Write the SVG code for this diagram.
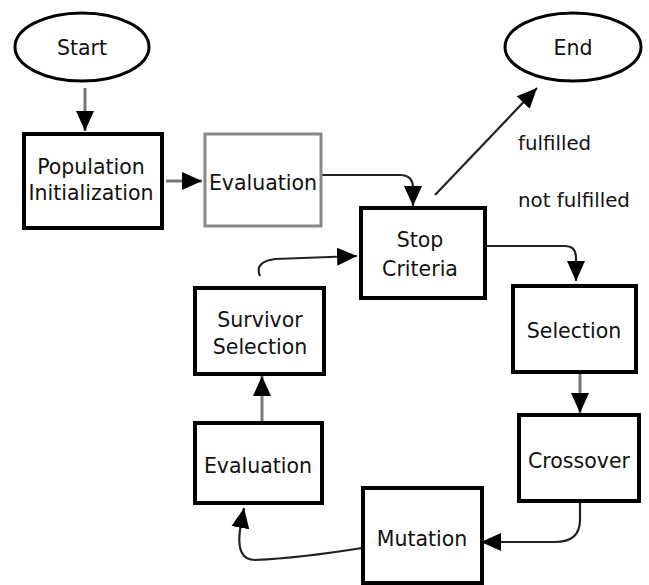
<svg xmlns="http://www.w3.org/2000/svg" width="649" height="585" viewBox="0 0 649 585">
<defs>
<style>
.t{font-family:"DejaVu Sans","Liberation Sans",sans-serif;font-size:20.5px;fill:#111;text-anchor:middle}
.l{font-family:"DejaVu Sans","Liberation Sans",sans-serif;font-size:19.8px;fill:#111}
.box{fill:#fff;stroke:#000;stroke-width:4}
.gbox{fill:#fff;stroke:#888;stroke-width:3}
.ell{fill:#fff;stroke:#000;stroke-width:3}
.c{fill:none;stroke:#222;stroke-width:2.2}
.cg{fill:none;stroke:#777;stroke-width:3}
</style>
<marker id="a" viewBox="0 0 20 20" refX="20" refY="10" markerWidth="20" markerHeight="20" markerUnits="userSpaceOnUse" orient="auto">
<path d="M0,1 L20,10 L0,19 z" fill="#000"/>
</marker>
</defs>
<g id="connectors">
<path class="cg" d="M85,88 V131" marker-end="url(#a)"/>
<path class="cg" d="M166,181 H202" marker-end="url(#a)"/>
<path class="c" d="M322,175 H400 Q413,175 413,188 V206" marker-end="url(#a)"/>
<path class="c" d="M435,195 L537,88" marker-end="url(#a)"/>
<path class="c" d="M486,246 H565 Q576,246 576,258 V281" marker-end="url(#a)"/>
<path class="cg" d="M580,373 V413" marker-end="url(#a)"/>
<path class="c" d="M580,503 V520 Q580,542 555,542 H481" marker-end="url(#a)"/>
<path class="c" d="M362,548 Q300,558 255,560 Q236,560 240,530 L244,508" marker-end="url(#a)"/>
<path class="cg" d="M262,421 V376" marker-end="url(#a)"/>
<path class="c" d="M260,276 Q254,262 275,259 L357,256" marker-end="url(#a)"/>
</g>
<g id="start"><ellipse class="ell" cx="82" cy="47" rx="67" ry="34"/><text class="t" x="82" y="55">Start</text></g>
<g id="end"><ellipse class="ell" cx="573" cy="47" rx="68" ry="34"/><text class="t" x="573" y="55">End</text></g>
<g id="popinit"><rect class="box" x="24" y="134" width="138" height="94"/><text class="t" x="91" y="174">Population</text><text class="t" x="91" y="200">Initialization</text></g>
<g id="eval1"><rect class="gbox" x="205" y="134" width="116" height="92"/><text class="t" x="263" y="190">Evaluation</text></g>
<g id="stop"><rect class="box" x="361" y="208" width="124" height="90"/><text class="t" x="420" y="247">Stop</text><text class="t" x="420" y="276">Criteria</text></g>
<g id="selection"><rect class="box" x="513" y="286" width="123" height="86"/><text class="t" x="574" y="338">Selection</text></g>
<g id="crossover"><rect class="box" x="519" y="415" width="120" height="86"/><text class="t" x="579" y="468">Crossover</text></g>
<g id="mutation"><rect class="box" x="363" y="488" width="119" height="95"/><text class="t" x="422" y="546">Mutation</text></g>
<g id="eval2"><rect class="box" x="195" y="423" width="127" height="80"/><text class="t" x="258" y="473">Evaluation</text></g>
<g id="survivor"><rect class="box" x="195" y="288" width="129" height="86"/><text class="t" x="260" y="327">Survivor</text><text class="t" x="260" y="354">Selection</text></g>
<g id="labels"><text class="l" x="518" y="150">fulfilled</text><text class="l" x="518" y="207">not fulfilled</text></g>
</svg>
